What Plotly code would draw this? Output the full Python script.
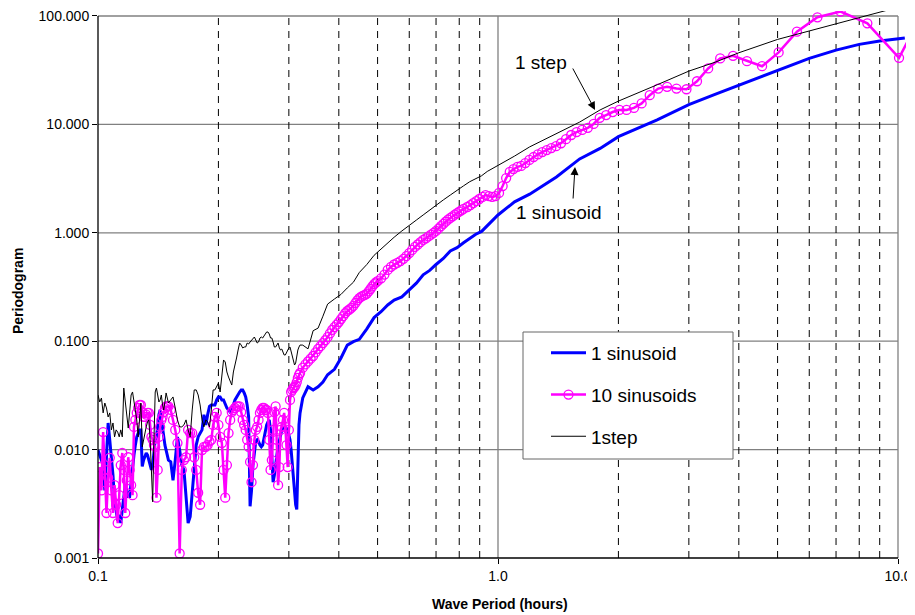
import math
import plotly.graph_objects as go

# ---------------- data ----------------
# short periods (noisy part), shared by the three series
period_noisy = [0.100, 0.101, 0.102, 0.103, 0.104, 0.105, 0.106, 0.107, 0.108, 0.109,
                0.110, 0.111, 0.112, 0.113, 0.114, 0.115, 0.116, 0.117, 0.118, 0.119,
                0.120, 0.121, 0.122, 0.123, 0.124, 0.125, 0.126, 0.127, 0.128, 0.129,
                0.130, 0.131, 0.132, 0.133, 0.134, 0.135, 0.136, 0.137, 0.138, 0.139,
                0.140, 0.141, 0.142, 0.143, 0.144, 0.145, 0.146, 0.147, 0.148, 0.149,
                0.150, 0.152, 0.154, 0.156, 0.158, 0.160, 0.162, 0.164, 0.166, 0.168,
                0.170, 0.172, 0.174, 0.176, 0.178, 0.180, 0.182, 0.184, 0.186, 0.188,
                0.190, 0.192, 0.194, 0.196, 0.198, 0.200, 0.202, 0.204, 0.206, 0.208,
                0.210, 0.212, 0.214, 0.216, 0.218, 0.220, 0.222, 0.224, 0.226, 0.228,
                0.230, 0.232, 0.234, 0.236, 0.238, 0.240, 0.242, 0.244, 0.246, 0.248,
                0.250, 0.252, 0.254, 0.256, 0.258, 0.260, 0.262, 0.264, 0.266, 0.268,
                0.270, 0.272, 0.274, 0.276, 0.278, 0.280, 0.282, 0.284, 0.286, 0.288,
                0.290, 0.292, 0.294, 0.296, 0.298, 0.300, 0.302, 0.304, 0.306, 0.308,
                0.310, 0.312, 0.314, 0.316, 0.318, 0.320]

sin1_noisy = [0.0099, 0.0089, 0.0080, 0.0072, 0.0042, 0.0099, 0.0176, 0.0123, 0.0089, 0.0058,
              0.0034, 0.0028, 0.0022, 0.0025, 0.0021, 0.0028, 0.0038, 0.0047, 0.0042, 0.0037,
              0.0037, 0.0052, 0.0065, 0.0089, 0.0110, 0.0131, 0.0141, 0.0152, 0.0152, 0.0070,
              0.0080, 0.0089, 0.0093, 0.0089, 0.0080, 0.0072, 0.0065, 0.0072, 0.0099, 0.0123,
              0.0131, 0.0169, 0.0210, 0.0232, 0.0188, 0.0152, 0.0131, 0.0110, 0.0099, 0.0085,
              0.0080, 0.0077, 0.0052, 0.0080, 0.0131, 0.0099, 0.0072, 0.0065, 0.0038, 0.0021,
              0.0024, 0.0042, 0.0072, 0.0110, 0.0131, 0.0141, 0.0152, 0.0210, 0.0169, 0.0210,
              0.0250, 0.0258, 0.0258, 0.0258, 0.0287, 0.0306, 0.0306, 0.0287, 0.0287, 0.0258,
              0.0242, 0.0232, 0.0222, 0.0242, 0.0258, 0.0287, 0.0306, 0.0319, 0.0340, 0.0355,
              0.0355, 0.0333, 0.0306, 0.0258, 0.0200, 0.0030, 0.0042, 0.0072, 0.0099, 0.0119,
              0.0123, 0.0119, 0.0110, 0.0106, 0.0110, 0.0131, 0.0152, 0.0169, 0.0180, 0.0188,
              0.0152, 0.0080, 0.0050, 0.0058, 0.0075, 0.0089, 0.0106, 0.0123, 0.0136, 0.0152,
              0.0158, 0.0162, 0.0162, 0.0158, 0.0152, 0.0136, 0.0123, 0.0099, 0.0072, 0.0052,
              0.0038, 0.0031, 0.0028, 0.0065, 0.0169, 0.0218]

sin10_noisy = [0.0011, 0.0069, 0.0042, 0.0145, 0.0065, 0.0026, 0.0055, 0.0084, 0.0042, 0.0026,
               0.0047, 0.0031, 0.0021, 0.0038, 0.0072, 0.0093, 0.0065, 0.0026, 0.0052, 0.0085,
               0.0065, 0.0047, 0.0038, 0.0162, 0.0188, 0.0218, 0.0242, 0.0258, 0.0258, 0.0222,
               0.0200, 0.0200, 0.0210, 0.0218, 0.0218, 0.0169, 0.0131, 0.0123, 0.0110, 0.0106,
               0.0036, 0.0065, 0.0131, 0.0162, 0.0188, 0.0200, 0.0222, 0.0242, 0.0250, 0.0250,
               0.0250, 0.0232, 0.0188, 0.0152, 0.0115, 0.0011, 0.0065, 0.0080, 0.0085, 0.0152,
               0.0142, 0.0142, 0.0085, 0.0065, 0.0040, 0.0031, 0.0099, 0.0106, 0.0106, 0.0110,
               0.0119, 0.0123, 0.0169, 0.0200, 0.0218, 0.0169, 0.0131, 0.0115, 0.0065, 0.0036,
               0.0072, 0.0142, 0.0188, 0.0222, 0.0232, 0.0242, 0.0250, 0.0250, 0.0250, 0.0222,
               0.0188, 0.0169, 0.0152, 0.0123, 0.0106, 0.0077, 0.0050, 0.0072, 0.0123, 0.0152,
               0.0162, 0.0188, 0.0218, 0.0232, 0.0242, 0.0242, 0.0232, 0.0232, 0.0218, 0.0123,
               0.0065, 0.0080, 0.0152, 0.0222, 0.0250, 0.0123, 0.0047, 0.0069, 0.0152, 0.0162,
               0.0188, 0.0218, 0.0162, 0.0110, 0.0069, 0.0152, 0.0287, 0.0340, 0.0355, 0.0370,
               0.0378, 0.0394, 0.0420, 0.0458, 0.0488, 0.0509]

step_noisy = [0.0319, 0.0275, 0.0299, 0.0218, 0.0269, 0.0242, 0.0200, 0.0218, 0.0152, 0.0176,
              0.0131, 0.0152, 0.0145, 0.0131, 0.0152, 0.0131, 0.0370, 0.0287, 0.0200, 0.0158,
              0.0222, 0.0319, 0.0340, 0.0287, 0.0232, 0.0188, 0.0131, 0.0188, 0.0269, 0.0106,
              0.0123, 0.0152, 0.0162, 0.0180, 0.0188, 0.0123, 0.0052, 0.0033, 0.0123, 0.0340,
              0.0370, 0.0319, 0.0275, 0.0287, 0.0319, 0.0258, 0.0232, 0.0275, 0.0333, 0.0299,
              0.0269, 0.0287, 0.0306, 0.0242, 0.0188, 0.0162, 0.0162, 0.0169, 0.0188, 0.0152,
              0.0131, 0.0232, 0.0355, 0.0355, 0.0319, 0.0258, 0.0188, 0.0162, 0.0188, 0.0180,
              0.0162, 0.0232, 0.0355, 0.0355, 0.0386, 0.0411, 0.0340, 0.0488, 0.0671, 0.0643,
              0.0520, 0.0467, 0.0420, 0.0394, 0.0520, 0.0629, 0.0700, 0.0829, 0.0962, 0.0922,
              0.0866, 0.0884, 0.0884, 0.0962, 0.0942, 0.0983, 0.1026, 0.1070, 0.1093, 0.1026,
              0.0962, 0.0983, 0.1070, 0.1093, 0.1070, 0.1117, 0.1165, 0.1216, 0.1216, 0.1165,
              0.1070, 0.1070, 0.0983, 0.0884, 0.0884, 0.0922, 0.0962, 0.0866, 0.0829, 0.0847,
              0.0795, 0.0746, 0.0746, 0.0795, 0.0829, 0.0866, 0.0884, 0.0795, 0.0700, 0.0643,
              0.0603, 0.0629, 0.0746, 0.0829, 0.0884, 0.0922]

# middle periods: dense for the marker series, coarser for the two lines
period_mid_m = [0.325, 0.330, 0.335, 0.340, 0.345, 0.350, 0.355, 0.360, 0.365, 0.370,
                0.375, 0.380, 0.385, 0.390, 0.395, 0.400, 0.405, 0.410, 0.415, 0.420,
                0.425, 0.430, 0.435, 0.440, 0.445, 0.450, 0.455, 0.460, 0.465, 0.470,
                0.475, 0.480, 0.485, 0.490, 0.495, 0.500, 0.510, 0.520, 0.530, 0.540,
                0.550, 0.560, 0.570, 0.580, 0.590, 0.600, 0.610, 0.620, 0.630, 0.640,
                0.650, 0.660, 0.670, 0.680, 0.690, 0.700, 0.710, 0.720, 0.730, 0.740,
                0.750, 0.760, 0.770, 0.780, 0.790, 0.800, 0.810, 0.820]
sin10_mid = [0.057, 0.061, 0.065, 0.069, 0.073, 0.079, 0.085, 0.090, 0.096, 0.102,
             0.109, 0.118, 0.127, 0.135, 0.142, 0.150, 0.160, 0.170, 0.181, 0.190,
             0.196, 0.203, 0.212, 0.225, 0.238, 0.250, 0.258, 0.263, 0.268, 0.275,
             0.288, 0.303, 0.320, 0.336, 0.348, 0.358, 0.380, 0.412, 0.454, 0.485,
             0.510, 0.528, 0.548, 0.575, 0.610, 0.650, 0.695, 0.740, 0.780, 0.820,
             0.860, 0.890, 0.925, 0.960, 1.000, 1.040, 1.095, 1.150, 1.210, 1.265,
             1.320, 1.370, 1.420, 1.470, 1.520, 1.565, 1.610, 1.660]

period_mid = [0.325, 0.335, 0.345, 0.355, 0.365, 0.375, 0.390, 0.405, 0.420, 0.435,
              0.450, 0.470, 0.490, 0.510, 0.530, 0.550, 0.575, 0.600, 0.625, 0.650,
              0.675, 0.700, 0.730, 0.760, 0.790, 0.820]
sin1_mid = [0.030, 0.038, 0.0355, 0.038, 0.042, 0.049, 0.055, 0.070, 0.092, 0.099,
            0.104, 0.130, 0.165, 0.187, 0.216, 0.240, 0.256, 0.297, 0.343, 0.41,
            0.45, 0.51, 0.58, 0.68, 0.73, 0.81]
step_mid = [0.092, 0.085, 0.125, 0.132, 0.17, 0.22, 0.245, 0.27, 0.31, 0.35,
            0.43, 0.51, 0.62, 0.71, 0.81, 0.91, 1.04, 1.16, 1.31, 1.46,
            1.62, 1.82, 2.01, 2.23, 2.48, 2.71]

# long periods
period_long = [0.85, 0.88, 0.91, 0.94, 0.97, 1.0, 1.1, 1.2, 1.4, 1.6, 1.8,
               2.0, 2.5, 3.0, 3.5, 4.0, 5.0, 6.0, 7.0, 8.0, 9.0, 10.4]
sin1_long = [0.89, 0.97, 1.03, 1.16, 1.31, 1.46, 1.93, 2.27, 3.27, 4.8, 6.0,
             7.7, 11.0, 15.2, 19.0, 23.0, 31.6, 40.6, 48.4, 54.7, 58.7, 62.5]
step_long = [2.96, 3.17, 3.36, 3.68, 3.92, 4.17, 5.1, 6.2, 8.3, 10.5, 13.6,
             16.4, 23.2, 31.0, 37.6, 45.8, 60.8, 72.6, 85.0, 96.6, 107.0, 125.0]

period_m_long = [0.838, 0.853, 0.867, 0.882, 0.898, 0.915, 0.931, 0.949, 0.967, 0.986,
                 1.006, 1.027, 1.048, 1.070, 1.093, 1.118, 1.143, 1.170, 1.198, 1.227,
                 1.258, 1.290, 1.324, 1.359, 1.397, 1.437, 1.479, 1.524, 1.572, 1.623,
                 1.677, 1.734, 1.796, 1.863, 1.935, 2.012, 2.096, 2.187, 2.286, 2.395,
                 2.515, 2.647, 2.794, 2.959, 3.144, 3.353, 3.593, 3.869, 4.192, 4.573,
                 5.030, 5.589, 6.288, 7.186, 8.383, 10.06, 12.58]
sin10_long = [1.73, 1.80, 1.88, 1.96, 2.05, 2.14, 2.23, 2.18, 2.14, 2.18,
              2.33, 2.70, 3.2, 3.64, 3.87, 4.06, 4.14, 4.4, 4.7, 5.0,
              5.3, 5.55, 5.8, 6.05, 6.3, 6.7, 7.3, 7.98, 8.5, 8.9,
              9.3, 10.1, 11.5, 12.2, 13.0, 13.6, 13.6, 14.2, 15.6, 18.6,
              21.4, 22.2, 21.4, 21.1, 25.0, 32.8, 40.6, 42.9, 38.3, 34.4,
              46.1, 71.6, 97.3, 110.0, 85.5, 41.1, 200.0]

series_names = ["1 sinusoid", "10 sinusoids", "1step"]
y_tick_vals = [0.001, 0.01, 0.1, 1, 10, 100]
y_tick_text = ["0.001", "0.010", "0.100", "1.000", "10.000", "100.000"]
x_tick_vals = [0.1, 1, 10]
x_tick_text = ["0.1", "1.0", "10.0"]
minor_periods = [0.2, 0.3, 0.4, 0.5, 0.6, 0.7, 0.8, 0.9, 2, 3, 4, 5, 6, 7, 8, 9]

# ---------------- styling ----------------
FONT = "Liberation Sans, Arial, sans-serif"
X_RANGE = [-1.0, 1.02]
Y_RANGE = [-3.0, 2.046]
# page body has an 8 px margin: the figure is placed at (8, 8) in the window
OFF = 8
W, H = 915 - OFF, 615 - OFF
# plot area in window pixels: x 98..906, y 11..558
PL, PR, PT, PB = 98, 906, 11, 558
ML, MR, MT, MB = PL - OFF, W - (PR - OFF), PT - OFF, H - (PB - OFF)
PW, PH = PR - PL, PB - PT


def px_x(p):
    return (p - PL) / PW


def px_y(p):
    return (PB - p) / PH


def xp(v):
    return (math.log10(v) - X_RANGE[0]) / (X_RANGE[1] - X_RANGE[0])


def yp(v):
    return (math.log10(v) - Y_RANGE[0]) / (Y_RANGE[1] - Y_RANGE[0])


fig = go.Figure()
fig.add_trace(go.Scatter(
    x=period_noisy + period_mid + period_long, y=sin1_noisy + sin1_mid + sin1_long,
    mode="lines", name=series_names[0], legendgroup="a",
    line=dict(color="#0000FF", width=3)))
fig.add_trace(go.Scatter(
    x=period_noisy + period_mid_m + period_m_long, y=sin10_noisy + sin10_mid + sin10_long,
    mode="lines+markers", name=series_names[1], legendgroup="b",
    line=dict(color="#FF00FF", width=2.5),
    marker=dict(symbol="circle-open", size=9, color="#FF00FF",
                line=dict(width=1.3, color="#FF00FF"))))
fig.add_trace(go.Scatter(
    x=period_noisy + period_mid + period_long, y=step_noisy + step_mid + step_long,
    mode="lines", name=series_names[2], legendgroup="c",
    line=dict(color="#000000", width=1)))

GRID = "#808080"
shapes = []
# major gridlines (horizontal at each decade, vertical at 1 and 10)
for v in y_tick_vals[1:]:
    shapes.append(dict(type="line", xref="paper", yref="paper",
                       x0=0, x1=xp(10), y0=yp(v), y1=yp(v),
                       line=dict(color=GRID, width=1.3), layer="below"))
for v in x_tick_vals[1:]:
    shapes.append(dict(type="line", xref="paper", yref="paper",
                       x0=xp(v), x1=xp(v), y0=0, y1=yp(100),
                       line=dict(color=GRID, width=1.3), layer="below"))
# minor dashed gridlines
for v in minor_periods:
    shapes.append(dict(type="line", xref="paper", yref="paper",
                       x0=xp(v), x1=xp(v), y0=0, y1=yp(100),
                       line=dict(color="black", width=1, dash="7px,6px"),
                       layer="below"))
# axis lines
shapes.append(dict(type="line", xref="paper", yref="paper", x0=0, x1=0,
                   y0=0, y1=yp(100), line=dict(color="black", width=1.3)))
shapes.append(dict(type="line", xref="paper", yref="paper", x0=0, x1=xp(10),
                   y0=0, y1=0, line=dict(color="black", width=1.3)))
# legend box
shapes.append(dict(type="rect", xref="paper", yref="paper",
                   x0=px_x(523), x1=px_x(733), y0=px_y(459), y1=px_y(332),
                   fillcolor="white", line=dict(color="#666666", width=1),
                   layer="above"))


def label(text, x, y, size=19, angle=0):
    return dict(text=text, xref="paper", yref="paper", x=px_x(x), y=px_y(y),
                xanchor="center", yanchor="middle", showarrow=False, textangle=angle,
                font=dict(family=FONT, size=size, color="black"))


def arrow(x_head, y_head, x_tail, y_tail):
    return dict(text="", xref="paper", yref="paper", x=px_x(x_head), y=px_y(y_head),
                ax=x_tail - x_head, ay=y_tail - y_head, showarrow=True,
                arrowhead=2, arrowsize=1.6, arrowwidth=1, arrowcolor="black")


annotations = [
    label("1 step", 541, 63),
    arrow(595, 110, 572, 67),
    label("1 sinusoid", 559, 213),
    arrow(575, 167, 573, 200),
    label("<b>Wave Period (hours)</b>", 500, 604, size=14),
    label("<b>Periodogram</b>", 18, 291, size=14, angle=-90),
]

fig.update_layout(
    template="none",
    width=W, height=H,
    margin=dict(l=ML, r=MR, t=MT, b=MB, pad=0, autoexpand=False),
    paper_bgcolor="white", plot_bgcolor="white",
    font=dict(family=FONT, size=14, color="black"),
    showlegend=True,
    legend=dict(x=px_x(546), y=px_y(334), xanchor="left", yanchor="top",
                bgcolor="rgba(0,0,0,0)", borderwidth=0,
                font=dict(family=FONT, size=19, color="black"),
                tracegroupgap=14, itemwidth=35),
    shapes=shapes,
    annotations=annotations,
)
fig.update_xaxes(type="log", range=X_RANGE, tickvals=x_tick_vals, ticktext=x_tick_text,
                 automargin=False, ticklabeloverflow="allow",
                 showgrid=False, showline=False, zeroline=False,
                 ticks="outside", ticklen=5,
                 tickcolor="black", tickfont=dict(family=FONT, size=14))
fig.update_yaxes(type="log", range=Y_RANGE, tickvals=y_tick_vals, ticktext=y_tick_text,
                 automargin=False, ticklabeloverflow="allow",
                 showgrid=False, showline=False, zeroline=False,
                 ticks="outside", ticklen=5,
                 tickcolor="black", tickfont=dict(family=FONT, size=14))

fig.write_html("out.html")
